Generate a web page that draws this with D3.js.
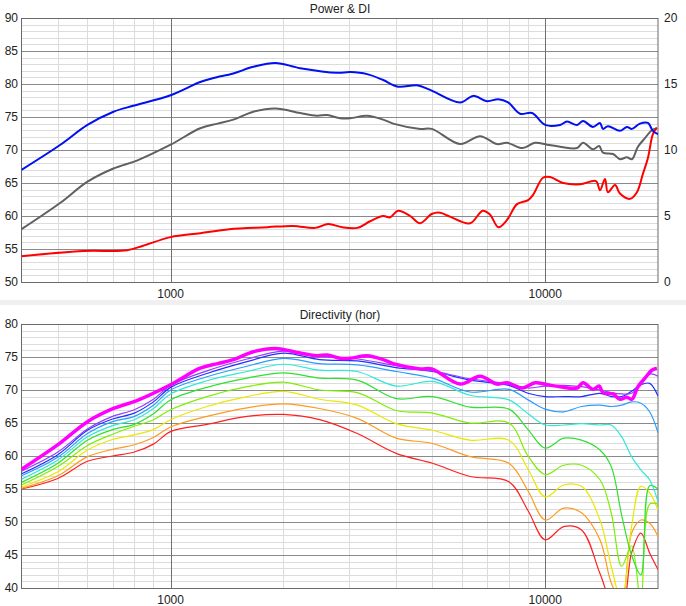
<!DOCTYPE html>
<html>
<head>
<meta charset="utf-8">
<script src="https://cdn.jsdelivr.net/npm/d3@7"></script>
<style>
  body { margin: 0; background: #fff; }
  svg { display: block; font-family: "Liberation Sans", Arial, sans-serif; font-size: 12px; }
</style>
</head>
<body>
<svg id="chart" width="686" height="606"></svg>
<script>
// Power & DI, [freq, dB]
const splCurve = [[400,67.0],[508,70.8],[600,73.8],[704,75.8],[795,76.7],[1000,78.3],[1200,80.3],[1300,80.9],[1470,81.6],[1663,82.6],[1904,83.2],[2218,82.4],[2785,81.7],[3016,81.8],[3348,81.5],[3693,80.6],[4049,79.6],[4550,79.8],[4928,79.1],[5927,77.2],[6419,78.2],[6995,77.4],[7500,77.7],[7960,77.2],[8565,75.5],[9220,75.6],[10000,73.8],[10950,73.8],[11430,74.3],[12160,73.8],[12620,74.4],[13410,73.5],[14000,74.1],[14260,73.2],[14700,73.6],[15830,72.9],[16520,73.5],[17040,73.2],[17900,74.0],[18800,74.1],[19380,72.9],[20000,72.4]]
const powerCurve = [[400,58.0],[508,62.0],[600,65.2],[704,67.2],[813,68.4],[1000,70.8],[1200,73.3],[1336,74.0],[1470,74.6],[1663,75.8],[1904,76.3],[2218,75.6],[2457,75.2],[2618,75.3],[2836,74.8],[3016,74.8],[3348,75.2],[3693,74.6],[3928,74.0],[4636,73.2],[4978,73.2],[5927,70.9],[6700,72.1],[7437,70.9],[7907,71.1],[8700,70.3],[9392,71.1],[10125,70.8],[10950,70.5],[12160,70.3],[12620,71.1],[13410,70.1],[13930,70.6],[14260,69.6],[15170,69.4],[15830,68.6],[16520,68.9],[17040,68.6],[17680,70.5],[18460,71.8],[19260,73.0],[19860,73.3]]
// DI on the right axis, 0..20
const diCurve = [[400,1.95],[585,2.35],[765,2.4],[845,2.75],[1000,3.4],[1200,3.7],[1435,4.0],[1812,4.15],[2125,4.25],[2433,4.1],[2635,4.4],[2870,4.15],[3148,4.1],[3409,4.6],[3693,5.0],[3855,4.9],[4049,5.4],[4360,5.0],[4636,4.45],[4978,5.15],[5240,5.25],[5572,4.95],[6301,4.45],[6810,5.4],[7125,5.1],[7500,4.15],[7907,4.7],[8408,5.9],[9000,6.2],[9280,6.6],[9864,7.9],[10310,7.95],[11170,7.5],[12390,7.4],[13660,7.65],[14000,6.95],[14440,7.8],[14700,6.8],[15360,7.35],[15830,6.7],[16830,6.3],[17570,6.8],[18230,8.2],[18800,9.4],[19380,11.2],[19860,11.7]]

// Directivity (hor)
const dirFreqs = [400,500,600,700,800,900,1000,1250,1600,2000,2500,3150,4000,5000,6300,8000,9000,10000,11200,12500,14000,15000,16000,17000,18000,19000,20000]
const dir10 = [57.7,60.6,64.1,66.0,67.0,68.6,70.7,72.9,74.7,75.9,75.1,74.7,73.7,72.9,71.7,70.9,70.3,70.6,70.7,70.5,70.0,69.6,69.4,69.5,70.8,72.4,72.1]
const dir20 = [57.3,60.2,63.9,65.6,66.5,68.2,70.4,72.5,74.3,75.6,74.6,74.4,73.4,72.8,71.5,70.7,69.5,69.0,69.0,69.0,69.5,69.0,69.0,69.8,70.8,71.0,69.1]
const dir30 = [57.0,59.8,63.4,65.2,66.0,67.7,70.0,72.0,73.6,74.8,74.0,73.8,72.8,71.8,69.7,70.1,68.5,67.1,66.7,67.5,67.7,67.5,67.7,68.2,68.0,66.7,63.5]
const dir40 = [56.5,59.4,62.9,64.6,65.5,67.2,69.4,71.4,72.8,73.9,73.0,72.8,70.6,71.3,69.2,68.5,66.4,64.7,64.7,64.9,64.7,64.7,62.9,59.9,57.9,56.4,53.1]
const dir50 = [56.0,58.9,62.4,64.0,64.8,66.4,68.5,70.4,71.8,72.6,71.8,71.5,68.7,69.0,67.4,67.1,64.0,61.2,62.7,62.4,60.9,58.4,51.0,45.0,42.0,55.5,55.0]
const dir60 = [55.6,58.4,61.6,63.3,64.5,65.5,67.0,69.0,70.5,71.2,70.0,69.6,66.9,66.5,65.0,65.0,60.0,57.2,58.6,58.6,56.4,51.4,43.3,46.4,38.0,52.7,52.7]
const dir70 = [55.3,57.6,60.9,62.5,63.2,64.0,65.5,67.5,69.0,69.8,68.6,67.7,64.9,63.9,62.4,62.4,58.0,53.8,55.6,55.4,50.3,43.3,38.0,49.3,55.4,54.4,51.8]
const dir80 = [55.1,57.0,59.9,61.0,61.7,62.8,64.4,66.0,67.3,67.9,67.2,65.7,62.7,61.9,59.9,58.9,54.7,50.3,52.1,51.4,47.3,40.8,38.0,48.3,50.3,49.8,47.8]
const dir90 = [55.0,56.6,59.2,60.0,60.6,61.8,63.7,64.8,66.0,66.3,65.5,63.4,60.4,58.9,56.9,56.1,51.7,47.3,49.3,48.8,42.2,38.0,37.0,45.3,48.3,45.3,42.8]
const dirSeries = [dir90, dir80, dir70, dir60, dir50, dir40, dir30, dir20, dir10]
const dirColors = ['#ff2020', '#ff9a20', '#e8e800', '#7cf000', '#30e030', '#30e8d8', '#2a9cff', '#2030ff', '#9040ff']

const xTicks = [1000, 10000]
const minorFreqs = [500, 600, 700, 800, 900, 2000, 3000, 4000, 5000, 6000, 7000, 8000, 9000]

const svg = d3.select('#chart')
const left = 21.5
const right = 658
const x = d3.scaleLog().domain([400, 20000]).range([left, right])

svg.append('rect').attr('x', 0).attr('y', 300).attr('width', 686).attr('height', 5).attr('fill', '#f0f0f0')

function panel (y0, y1, domain, title) {
  const y = d3.scaleLinear().domain(domain).range([y1, y0])
  const g = svg.append('g')

  const minorY = d3.range(domain[0] + 1, domain[1]).filter((v) => v % 5 !== 0)
  g.selectAll('.hmin').data(minorY).join('line')
    .attr('x1', left).attr('x2', right)
    .attr('y1', (d) => Math.round(y(d)) + 0.5).attr('y2', (d) => Math.round(y(d)) + 0.5)
    .attr('stroke', '#dcdcdc')
  g.selectAll('.vmin').data(minorFreqs).join('line')
    .attr('x1', (d) => Math.round(x(d)) + 0.5).attr('x2', (d) => Math.round(x(d)) + 0.5)
    .attr('y1', y0).attr('y2', y1)
    .attr('stroke', '#dcdcdc')
  const majorY = d3.range(domain[0] + 5, domain[1], 5)
  g.selectAll('.hmaj').data(majorY).join('line')
    .attr('x1', left).attr('x2', right)
    .attr('y1', (d) => Math.round(y(d)) + 0.5).attr('y2', (d) => Math.round(y(d)) + 0.5)
    .attr('stroke', '#8a8a8a')
  g.selectAll('.vmaj').data(xTicks).join('line')
    .attr('x1', (d) => Math.round(x(d)) + 0.5).attr('x2', (d) => Math.round(x(d)) + 0.5)
    .attr('y1', y0).attr('y2', y1)
    .attr('stroke', '#707070')
  g.append('rect')
    .attr('x', left).attr('y', y0 + 0.5).attr('width', right - left).attr('height', y1 - y0)
    .attr('fill', 'none').attr('stroke', '#6a6a6a')

  g.selectAll('.yl').data(d3.range(domain[0], domain[1] + 1, 5)).join('text')
    .attr('x', 18).attr('y', (d) => y(d) + 4)
    .attr('text-anchor', 'end').attr('fill', '#222').text((d) => d)
  g.selectAll('.xl').data(xTicks).join('text')
    .attr('x', (d) => x(d)).attr('y', y1 + 16)
    .attr('text-anchor', 'middle').attr('fill', '#222').text((d) => d)
  g.append('text')
    .attr('x', 340).attr('y', y0 - 5)
    .attr('text-anchor', 'middle').attr('fill', '#222').text(title)

  const clipId = 'clip' + y0
  svg.append('clipPath').attr('id', clipId)
    .append('rect').attr('x', left).attr('y', y0).attr('width', right - left).attr('height', y1 - y0)
  const plot = svg.append('g').attr('clip-path', `url(#${clipId})`)
  return { y, plot }
}

const topPanel = panel(18, 282, [50, 90], 'Power & DI')
const yDI = d3.scaleLinear().domain([0, 20]).range([282, 18])
svg.selectAll('.yr').data(d3.range(0, 21, 5)).join('text')
  .attr('x', 664).attr('y', (d) => yDI(d) + 4)
  .attr('fill', '#222').text((d) => d)

const lineTop = d3.line().x((d) => x(d[0])).y((d) => topPanel.y(d[1])).curve(d3.curveCatmullRom)
const lineDI = d3.line().x((d) => x(d[0])).y((d) => yDI(d[1])).curve(d3.curveCatmullRom)

topPanel.plot.append('path').datum(powerCurve).attr('d', lineTop)
  .attr('fill', 'none').attr('stroke', '#606060').attr('stroke-width', 2)
topPanel.plot.append('path').datum(diCurve).attr('d', lineDI)
  .attr('fill', 'none').attr('stroke', '#ff0000').attr('stroke-width', 2)
topPanel.plot.append('path').datum(splCurve).attr('d', lineTop)
  .attr('fill', 'none').attr('stroke', '#0010f0').attr('stroke-width', 2)

const bottomPanel = panel(324, 588, [40, 80], 'Directivity (hor)')
const lineDir = d3.line().x((d, i) => x(dirFreqs[i])).y((d) => bottomPanel.y(d)).curve(d3.curveCatmullRom)
const lineOn = d3.line().x((d) => x(d[0])).y((d) => bottomPanel.y(d[1])).curve(d3.curveCatmullRom)

dirSeries.forEach((s, i) => {
  bottomPanel.plot.append('path').datum(s).attr('d', lineDir)
    .attr('fill', 'none').attr('stroke', dirColors[i]).attr('stroke-width', 1.2)
})
// on-axis curve, same as the grey curve above
bottomPanel.plot.append('path').datum(powerCurve).attr('d', lineOn)
  .attr('fill', 'none').attr('stroke', '#ff00ff').attr('stroke-width', 3.5)
</script>
</body>
</html>
